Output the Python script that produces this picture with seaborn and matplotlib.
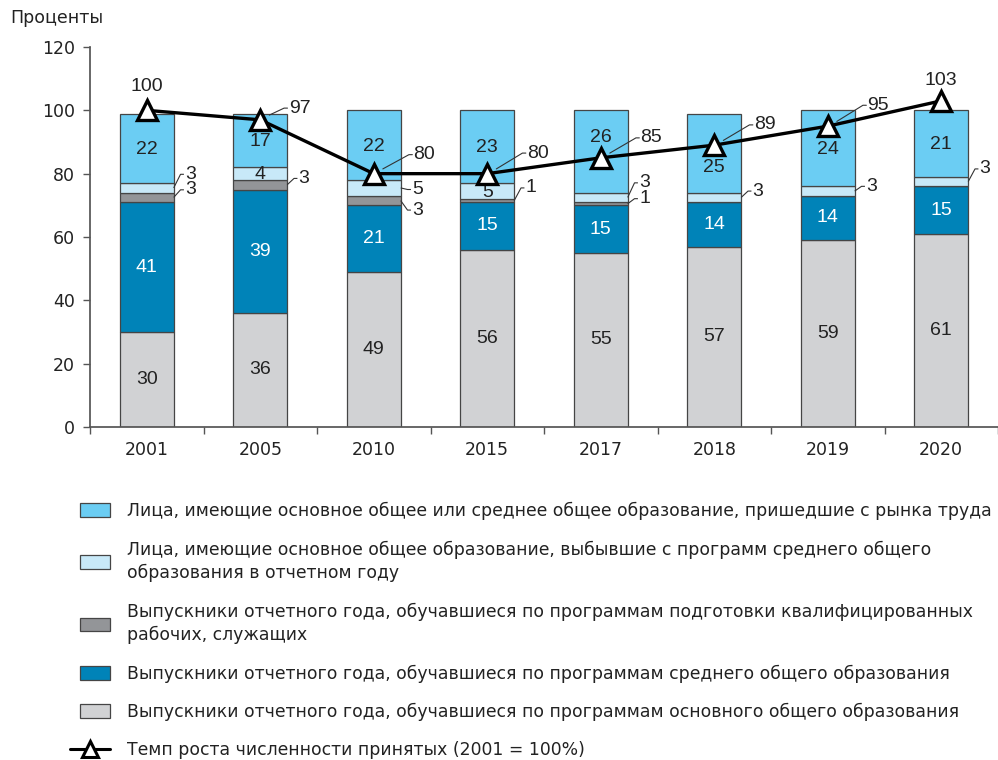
import matplotlib as mpl
import matplotlib.pyplot as plt
import numpy as np
import pandas as pd
import seaborn as sns
from matplotlib.legend_handler import HandlerPatch
from matplotlib.lines import Line2D
from matplotlib.patches import Patch, Rectangle

years = ["2001", "2005", "2010", "2015", "2017", "2018", "2019", "2020"]
basic_grads = [30, 36, 49, 56, 55, 57, 59, 61]
secondary_grads = [41, 39, 21, 15, 15, 14, 14, 15]
worker_grads = [3, 3, 3, 1, 1, 0, 0, 0]
dropouts = [3, 4, 5, 5, 3, 3, 3, 3]
labour_market = [22, 17, 22, 23, 26, 25, 24, 21]
growth = [100, 97, 80, 80, 85, 89, 95, 103]

legend_labels = [
    "Лица, имеющие основное общее или среднее общее образование, пришедшие с рынка труда",
    "Лица, имеющие основное общее образование, выбывшие с программ среднего общего\nобразования в отчетном году",
    "Выпускники отчетного года, обучавшиеся по программам подготовки квалифицированных\nрабочих, служащих",
    "Выпускники отчетного года, обучавшиеся по программам среднего общего образования",
    "Выпускники отчетного года, обучавшиеся по программам основного общего образования",
    "Темп роста численности принятых (2001 = 100%)",
]

# label placement (where each value label sits relative to its segment / point)
dropout_inside = {1, 3}
dropout_dy = {0: 4.3, 2: -0.5, 4: 4.6, 5: 2.0, 6: 1.5, 7: 4.0}
worker_dy = {0: 2.4, 1: 2.0, 2: -3.0, 3: 4.0, 4: 1.6}
labour_dy = {4: 4.3, 5: -4.5}
growth_off = [(0, 7.5), (0.24, 3.7), (0.34, 6.0), (0.34, 6.5), (0.34, 6.3),
              (0.34, 6.4), (0.34, 6.6), (0, 6.5)]

C_LABOUR = "#6BCDF3"
C_DROP = "#C8E9F8"
C_WORK = "#939598"
C_SEC = "#0083B8"
C_BASIC = "#D1D2D4"
EDGE = "#454545"
NUM_FONT = ["Liberation Sans", "DejaVu Sans"]
NUM_SIZE = 14

sns.set_theme(style="white")
plt.rcParams["font.family"] = ["DejaVu Sans"]
mpl.rcParams["axes.edgecolor"] = "#555555"

df = pd.DataFrame({
    "year": years,
    "basic": basic_grads,
    "secondary": secondary_grads,
    "workers": worker_grads,
    "dropouts": dropouts,
    "labour": labour_market,
})
layers = [("basic", C_BASIC), ("secondary", C_SEC), ("workers", C_WORK),
          ("dropouts", C_DROP), ("labour", C_LABOUR)]

fig = plt.figure(figsize=(9.98, 7.6), dpi=100)
ax = fig.add_axes([90 / 998, 1 - 427 / 760, 908 / 998, 380 / 760])

width = 0.475
bottom = np.zeros(len(years))
bottoms = {}
for col, color in layers:
    bottoms[col] = bottom.copy()
    sns.barplot(data=df, x="year", y=col, color=color, width=width,
                bottom=bottom.copy(), edgecolor=EDGE, linewidth=0.9,
                saturation=1, ax=ax)
    bottom = bottom + df[col].to_numpy()

pos = np.arange(len(years))
half = width / 2


def inside(x, y, txt, color="#222222"):
    ax.text(x, y, txt, ha="center", va="center", fontsize=NUM_SIZE,
            color=color, family=NUM_FONT)


def leader(x0, y0, x1, y1, txt):
    ax.plot([x0, x1, x1 + 0.03], [y0, y1, y1], color="#333333", lw=0.8,
            solid_capstyle="butt", zorder=4)
    ax.text(x1 + 0.04, y1, txt, ha="left", va="center", fontsize=NUM_SIZE,
            color="#222222", family=NUM_FONT, zorder=5)


for i in range(len(years)):
    inside(i, bottoms["basic"][i] + basic_grads[i] / 2, str(basic_grads[i]))
    inside(i, bottoms["secondary"][i] + secondary_grads[i] / 2,
           str(secondary_grads[i]), color="white")
    inside(i, bottoms["labour"][i] + labour_market[i] / 2 + labour_dy.get(i, -0.3),
           str(labour_market[i]))
    mid = bottoms["dropouts"][i] + dropouts[i] / 2
    if i in dropout_inside:
        inside(i, mid - 0.3, str(dropouts[i]))
    else:
        leader(i + half, mid, i + half + 0.06, mid + dropout_dy[i], str(dropouts[i]))
    if worker_grads[i] > 0:
        mid = bottoms["workers"][i] + worker_grads[i] / 2
        leader(i + half, mid, i + half + 0.06, mid + worker_dy[i], str(worker_grads[i]))

sns.lineplot(x=pos, y=growth, color="black", linewidth=2.4, marker="^",
             markersize=14, markerfacecolor="white", markeredgecolor="black",
             markeredgewidth=2.4, ax=ax, zorder=6)

for i, (dx, dy) in enumerate(growth_off):
    if dx == 0:
        ax.text(i, growth[i] + dy, str(growth[i]), ha="center", va="center",
                fontsize=NUM_SIZE, color="#222222", family=NUM_FONT, zorder=7)
    else:
        ax.plot([i + 0.08, i + dx - 0.03, i + dx], [growth[i] + 1.5, growth[i] + dy, growth[i] + dy],
                color="#333333", lw=0.8, zorder=5)
        ax.text(i + dx + 0.01, growth[i] + dy, str(growth[i]), ha="left", va="center",
                fontsize=NUM_SIZE, color="#222222", family=NUM_FONT, zorder=7)

ax.set_xlim(-0.5, len(years) - 0.5)
ax.set_ylim(0, 120)
ax.set_yticks(range(0, 121, 20))
ax.set_xticks(pos)
ax.set_xticklabels(years)
ax.set_xticks(np.arange(-0.5, len(years), 1.0), minor=True)
ax.tick_params(axis="x", which="major", length=0, pad=10, labelsize=12.5, colors="#222222")
ax.tick_params(axis="x", which="minor", length=5, width=1, color="#555555", direction="out", bottom=True)
ax.tick_params(axis="y", length=5, width=1, color="#555555", direction="out", left=True,
               pad=6, labelsize=12.5, labelcolor="#222222")
ax.set_xlabel("")
ax.set_ylabel("")
ax.spines["top"].set_visible(False)
ax.spines["right"].set_visible(False)
ax.grid(False)
fig.text(10 / 998, 1 - 18 / 760, "Проценты", ha="left", va="center", fontsize=12.5, color="#222222")


def narrow_patch(legend, orig_handle, xdescent, ydescent, width, height, fontsize):
    return Rectangle((-xdescent + 0.25 * width, -ydescent), 0.75 * width, height)


handles = [
    Patch(facecolor=C_LABOUR, edgecolor=EDGE, linewidth=0.9),
    Patch(facecolor=C_DROP, edgecolor=EDGE, linewidth=0.9),
    Patch(facecolor=C_WORK, edgecolor=EDGE, linewidth=0.9),
    Patch(facecolor=C_SEC, edgecolor=EDGE, linewidth=0.9),
    Patch(facecolor=C_BASIC, edgecolor=EDGE, linewidth=0.9),
    Line2D([], [], color="black", linewidth=2.2, marker="^", markersize=12,
           markerfacecolor="white", markeredgecolor="black", markeredgewidth=2.2),
]
leg = ax.legend(handles, legend_labels, loc="upper left", bbox_to_anchor=(70 / 998, 1 - 502 / 760),
                bbox_transform=fig.transFigure, frameon=False, fontsize=12.4,
                handlelength=2.3, handleheight=0.85, handletextpad=1.0, labelspacing=1.17,
                borderpad=0, borderaxespad=0, labelcolor="#222222",
                handler_map={Patch: HandlerPatch(patch_func=narrow_patch)})
for t in leg.get_texts():
    t.set_linespacing(1.38)

fig.savefig("out.png", dpi=100, facecolor="white")
